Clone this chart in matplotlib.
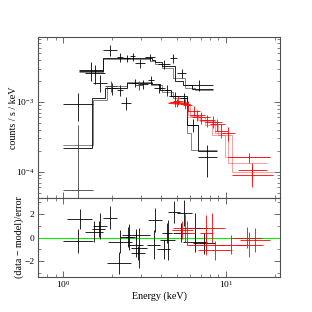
import numpy as np
import matplotlib
matplotlib.use("Agg")
import matplotlib.pyplot as plt
from matplotlib.ticker import LogLocator, MultipleLocator, NullFormatter, FixedLocator

plt.rcParams['font.family'] = ['Liberation Serif', 'DejaVu Serif']
plt.rcParams['mathtext.fontset'] = 'stix'

# ---------------- data (top panel: counts / s / keV) ----------------
# spectrum A (upper black)
A_lo = [1.25, 1.76, 2.15, 2.33, 2.58, 2.77, 3.19, 3.85, 4.53, 5.0, 5.6]
A_hi = [1.76, 2.15, 2.33, 2.58, 2.77, 3.19, 3.67, 4.53, 5.0, 5.7, 8.3]
A_rate = [2.9e-3, 5.5e-3, 4.4e-3, 4.25e-3, 4.5e-3, 3.6e-3, 4.4e-3, 3.5e-3, 4.25e-3, 2.6e-3, 1.75e-3]
A_err = [0.9e-3, 1.0e-3, 0.6e-3, 0.5e-3, 0.6e-3, 0.5e-3, 0.5e-3, 0.5e-3, 0.6e-3, 0.4e-3, 0.3e-3]
A_model_edges = [1.25, 1.76, 3.52, 3.67, 4.05, 4.87, 5.45, 6.19, 8.3]
A_model = [2.8e-3, 4.3e-3, 4.0e-3, 3.7e-3, 3.3e-3, 2.0e-3, 1.75e-3, 1.55e-3]
A2_model_edges = [1.25, 1.76, 3.4, 3.67, 4.05, 4.73, 5.6, 6.5, 8.3]
A2_model = [2.7e-3, 4.1e-3, 3.85e-3, 3.55e-3, 3.1e-3, 2.2e-3, 1.6e-3, 1.5e-3]

# spectrum B (lower black)
B_lo = [1.0, 1.36, 1.53, 1.86, 2.15, 2.25, 2.6, 2.9, 3.3, 3.6, 4.2, 4.5, 5.2, 5.8, 6.7]
B_hi = [1.53, 1.81, 1.86, 2.15, 2.33, 2.6, 2.9, 3.3, 3.6, 4.2, 4.5, 5.2, 5.8, 6.7, 8.8]
B_rate = [9.4e-4, 2.6e-3, 1.9e-3, 1.58e-3, 1.48e-3, 9.7e-4, 1.87e-3, 1.8e-3, 2.06e-3,
          1.58e-3, 1.48e-3, 1.2e-3, 1.14e-3, 4.7e-4, 1.64e-4]
B_err = [4.0e-4, 0.8e-3, 0.5e-3, 0.3e-3, 0.25e-3, 0.2e-3, 0.25e-3, 0.25e-3, 0.3e-3,
         0.25e-3, 0.25e-3, 0.2e-3, 0.2e-3, 1.0e-4, 8e-5]
B_model_edges = [1.0, 1.5, 1.81, 2.47, 3.52, 3.94, 4.6, 5.77, 6.73, 8.8]
B_model = [2.2e-4, 1.14e-3, 1.58e-3, 1.87e-3, 1.8e-3, 1.48e-3, 1.22e-3, 4.7e-4, 2.0e-4]
B2_lo = [1.0, 1.81, 2.76]
B2_hi = [1.53, 2.15, 3.1]
B2_rate = [5.5e-5, 1.7e-3, 1.75e-3]
B2_err = [4.2e-4, 0.3e-3, 0.25e-3]
B2_model_edges = [1.0, 1.53, 1.86, 2.47, 3.52, 4.05, 4.73, 5.77, 6.1, 8.8]
B2_model = [2.45e-4, 1.07e-3, 1.7e-3, 1.93e-3, 1.75e-3, 1.4e-3, 1.15e-3, 3.6e-4, 2.06e-4]

# red spectra
R1_lo = [4.53, 5.22, 6.01, 7.43, 9.45, 10.29]
R1_hi = [5.22, 6.01, 7.43, 9.45, 11.36, 18.62]
R1_rate = [1.0e-3, 9.5e-4, 6.5e-4, 5.2e-4, 3.6e-4, 1.6e-4]
R1_err = [1.5e-4, 1.5e-4, 1.2e-4, 1.0e-4, 0.8e-4, 2.5e-5]
R2_lo = [4.73, 5.45, 6.19, 7.98, 11.85]
R2_hi = [5.45, 6.19, 7.98, 9.86, 17.85]
R2_rate = [1.05e-3, 9.0e-4, 6.0e-4, 4.8e-4, 1.07e-4]
R2_err = [1.5e-4, 1.5e-4, 1.1e-4, 0.9e-4, 2.5e-5]
R3_lo = [4.4, 5.77, 6.93, 8.56, 10.88]
R3_hi = [5.77, 6.93, 8.56, 10.29, 19.43]
R3_rate = [9.7e-4, 7.5e-4, 5.5e-4, 3.9e-4, 9.0e-5]
R3_err = [1.3e-4, 1.3e-4, 1.1e-4, 0.9e-4, 3.0e-5]
M1_edges = [4.53, 5.85, 6.73, 8.21, 9.86, 18.62]
M1 = [1.0e-3, 6.6e-4, 5.5e-4, 3.4e-4, 1.6e-4]
M2_edges = [4.73, 6.01, 6.93, 8.56, 10.29, 17.85]
M2 = [9.5e-4, 6.3e-4, 5.3e-4, 3.6e-4, 1.35e-4]
M3_edges = [4.4, 5.77, 7.43, 9.0, 10.88, 19.43]
M3 = [1.0e-3, 6.0e-4, 4.7e-4, 3.4e-4, 1.0e-4]

# ---------------- residuals ((data - model)/error) ----------------
resK_lo = [1.058, 1.0, 1.76, 1.528, 1.506, 1.364, 1.862, 1.888, 2.237, 2.40, 2.505, 2.614, 2.614,
           2.30, 3.323, 3.276, 3.773, 4.05, 4.41, 5.006, 4.73, 3.936, 5.447, 5.447, 6.27]
resK_hi = [1.506, 1.528, 2.145, 1.862, 1.81, 1.76, 2.614, 2.65, 2.765, 2.69, 3.096, 3.276, 3.185,
           3.418, 4.05, 3.936, 4.533, 4.664, 5.22, 6.186, 6.013, 4.865, 7.647, 7.647, 8.56]
resK = [1.6, -0.3, 1.7, 1.0, 0.75, 0.5, -2.2, -0.35, 0.05, 0.05, -0.6, -0.9, -1.3,
        0.25, 1.5, -0.6, -1.0, 0.4, 2.2, 2.1, 0.4, -0.2, 0.8, -0.4, -0.5]
resK_err = [0.85, 1.0, 0.95, 1.1, 0.7, 0.9, 0.95, 1.0, 0.85, 1.1, 1.1, 1.7, 0.6,
            0.5, 1.0, 1.2, 0.8, 0.85, 0.95, 1.1, 0.8, 1.7, 1.3, 0.8, 0.9]
resR_lo = [4.73, 5.22, 4.664, 5.765, 6.926, 6.732, 8.93, 11.36, 12.19, 10.88, 6.93]
resR_hi = [6.64, 6.45, 6.27, 9.86, 9.86, 10.88, 13.08, 16.87, 18.62, 16.63, 8.3]
resR = [0.8, 0.4, 0.65, -0.6, 0.8, -1.1, -0.6, -0.6, -0.2, 0.0, 0.4]
resR_err = [1.2, 1.0, 0.8, 0.9, 1.3, 0.8, 0.8, 1.1, 1.05, 0.9, 1.5]

# ---------------- figure ----------------
fig = plt.figure(figsize=(3.12, 3.12), dpi=100)
W, H = 312.0, 312.0
ax1 = fig.add_axes([38 / W, 1 - 197.7 / H, 242 / W, 160.4 / H])
ax2 = fig.add_axes([38 / W, 1 - 277.3 / H, 242 / W, 79.6 / H], sharex=ax1)

frame = '#505050'
LW = 0.6
FS = 7.2


def cross(ax, lo, hi, y, e, color, lw=LW, alpha=1.0):
    lo = np.asarray(lo); hi = np.asarray(hi)
    xc = np.sqrt(lo * hi)
    ax.errorbar(xc, y, xerr=[xc - lo, hi - xc], yerr=e, fmt='none',
                ecolor=color, elinewidth=lw, capsize=0, alpha=alpha)


def model(ax, edges, vals, color, lw=LW, alpha=1.0):
    ax.stairs(vals, edges, color=color, lw=lw, alpha=alpha, baseline=None)


# top panel
model(ax1, A2_model_edges, A2_model, '#707070')
model(ax1, B2_model_edges, B2_model, '#707070')
model(ax1, A_model_edges, A_model, 'black')
model(ax1, B_model_edges, B_model, 'black')
cross(ax1, A_lo, A_hi, A_rate, A_err, 'black')
cross(ax1, B_lo, B_hi, B_rate, B_err, 'black')
cross(ax1, B2_lo, B2_hi, B2_rate, B2_err, '#404040')
for e_, m_ in ((M1_edges, M1), (M2_edges, M2), (M3_edges, M3)):
    model(ax1, e_, m_, '#ff3030', alpha=0.55)
for lo, hi, r, e in ((R1_lo, R1_hi, R1_rate, R1_err), (R2_lo, R2_hi, R2_rate, R2_err),
                     (R3_lo, R3_hi, R3_rate, R3_err)):
    cross(ax1, lo, hi, r, e, '#ff0000')

ax1.set_xscale('log')
ax1.set_yscale('log')
ax1.set_xlim(0.7, 21.5)
ax1.set_ylim(4.24e-5, 8.47e-3)
ax1.set_ylabel('counts / s / keV', fontsize=FS)

# bottom panel
for e_ in (M1_edges, M2_edges, M3_edges):
    ax2.plot([e_[0], e_[-1]], [0, 0], color='#ff3030', lw=LW, alpha=0.55)
ax2.axhline(0, color='#00ee00', lw=0.8)
cross(ax2, resK_lo, resK_hi, resK, resK_err, 'black')
cross(ax2, resR_lo, resR_hi, resR, resR_err, '#ff0000')
ax2.set_ylim(-3.4, 3.4)
ax2.set_xlabel('Energy (keV)', fontsize=FS, labelpad=1)
ax2.set_ylabel('(data \u2212 model)/error', fontsize=FS)
ax2.yaxis.set_major_locator(FixedLocator([-2, 0, 2]))
ax2.yaxis.set_minor_locator(MultipleLocator(1))

for ax in (ax1, ax2):
    for s in ax.spines.values():
        s.set_color(frame)
        s.set_linewidth(0.8)
    ax.tick_params(which='both', direction='in', top=True, right=True,
                   color=frame, labelsize=6.8, pad=2.5)
    ax.tick_params(which='major', length=4, width=0.6)
    ax.tick_params(which='minor', length=2, width=0.5)
    ax.xaxis.set_major_locator(LogLocator(base=10, numticks=10))
    ax.xaxis.set_minor_locator(LogLocator(base=10, subs=np.arange(2, 10), numticks=10))
    ax.xaxis.set_minor_formatter(NullFormatter())

ax2.tick_params(axis='x', which='both', pad=1.0)
ax1.yaxis.set_major_locator(LogLocator(base=10, numticks=10))
ax1.yaxis.set_minor_locator(LogLocator(base=10, subs=np.arange(2, 10), numticks=10))
ax1.yaxis.set_minor_formatter(NullFormatter())
ax1.tick_params(axis='x', labelbottom=False)

ax1.yaxis.set_label_coords(-0.083, 0.5)
ax2.yaxis.set_label_coords(-0.058, 0.5)

fig.savefig('out.png', dpi=100)
